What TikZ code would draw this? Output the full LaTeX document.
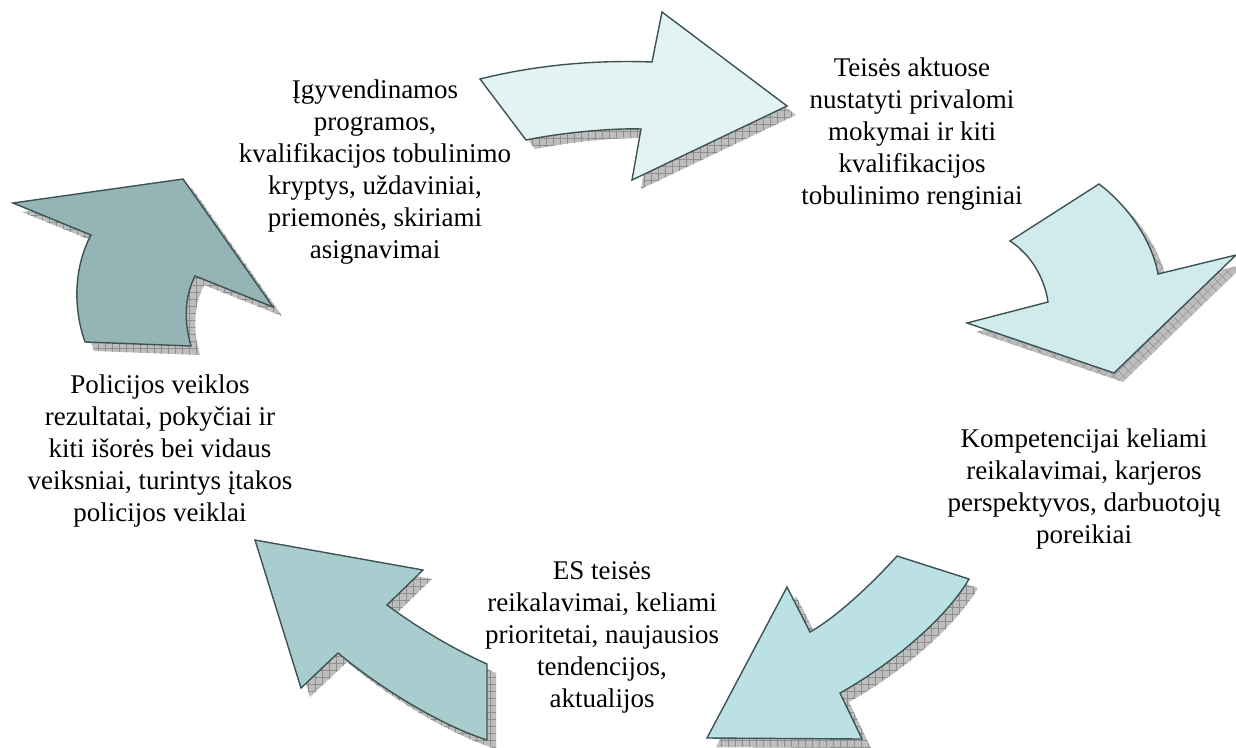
\documentclass[tikz,border=0pt]{standalone}
\usepackage{fontspec}
\setmainfont{Liberation Serif}
\usetikzlibrary{patterns.meta}
\definecolor{edgecol}{HTML}{3D5353}
\definecolor{fillA}{HTML}{E3F3F3}
\definecolor{fillB}{HTML}{D1EAEB}
\definecolor{fillC}{HTML}{BBE1E4}
\definecolor{fillD}{HTML}{A9CDCF}
\definecolor{fillE}{HTML}{95B4B5}
\definecolor{shadefill}{HTML}{BEBEBE}
\definecolor{shadeline}{HTML}{8E8E8E}
\newcommand\pathA{(480,79) .. controls (540,64) and (600,60) .. (652,62) -- (662,12) -- (787,106) -- (632,180) -- (641,129) .. controls (610,128) and (560,133) .. (526,140) -- cycle}
\newcommand\pathB{(1099,184) .. controls (1127,205) and (1152,240) .. (1158,274) -- (1236,255) -- (1114,373) -- (967,323) -- (1048,302) .. controls (1045,280) and (1032,255) .. (1010,241) -- cycle}
\newcommand\pathC{(897,556) -- (969,579) .. controls (945,620) and (890,665) .. (840,693) -- (862,739) -- (707,738) -- (787,587) -- (810,632) .. controls (835,618) and (870,586) .. (897,556) -- cycle}
\newcommand\pathD{(255,540) -- (423,570) -- (387,605) .. controls (425,633) and (460,652) .. (487,664) -- (487,740) .. controls (440,725) and (380,688) .. (338,653) -- (301,688) -- cycle}
\newcommand\pathE{(13,203) -- (183,179) -- (273,307) -- (195,276) .. controls (183,300) and (185,325) .. (191,346) -- (85,342) .. controls (72,305) and (75,265) .. (91,235) -- cycle}
\begin{document}
\begin{tikzpicture}[x=1pt,y=-1pt,
  shadowshape/.style={fill=shadefill, postaction={pattern={Hatch[distance=7pt,angle=#1,line width=0.5pt]}, pattern color=shadeline}},
  shadowshape/.default=0,
  arrowshape/.style={draw=edgecol, line width=1.4pt, line join=miter},
  lbl/.style={inner sep=0pt, align=center, font=\fontsize{27}{32}\selectfont, text=black}]
\useasboundingbox (0,0) rectangle (1236,747);
% shadows
\begin{scope}[shift={(9,9)}]
\path[shadowshape] \pathA;
\path[shadowshape=45] \pathB;
\path[shadowshape] \pathC;
\path[shadowshape] \pathD;
\path[shadowshape] \pathE;
\end{scope}
% arrows
\draw[arrowshape, fill=fillA] \pathA;
\draw[arrowshape, fill=fillB] \pathB;
\draw[arrowshape, fill=fillC] \pathC;
\draw[arrowshape, fill=fillD] \pathD;
\draw[arrowshape, fill=fillE] \pathE;
% labels
\node[lbl] (t1) at (375,172) {Įgyvendinamos\\programos,\\kvalifikacijos tobulinimo\\kryptys, uždaviniai,\\priemonės, skiriami\\asignavimai};
\node[lbl] (t2) at (912,134) {Teisės aktuose\\nustatyti privalomi\\mokymai ir kiti\\kvalifikacijos\\tobulinimo renginiai};
\node[lbl] (t3) at (1084,489) {Kompetencijai keliami\\reikalavimai, karjeros\\perspektyvos, darbuotojų\\poreikiai};
\node[lbl] (t4) at (602,637) {ES teisės\\reikalavimai, keliami\\prioritetai, naujausios\\tendencijos,\\aktualijos};
\node[lbl] (t5) at (160,451) {Policijos veiklos\\rezultatai, pokyčiai ir\\kiti išorės bei vidaus\\veiksniai, turintys įtakos\\policijos veiklai};
\end{tikzpicture}
\end{document}
